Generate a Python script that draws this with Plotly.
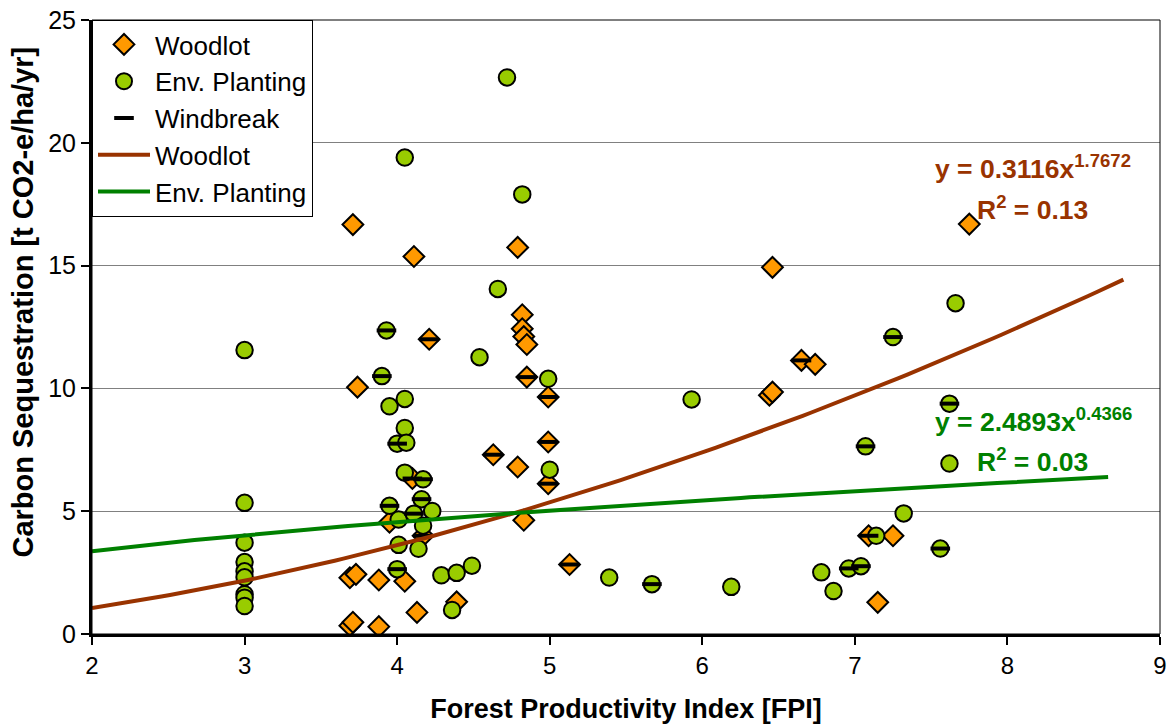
import numpy as np
import plotly.graph_objects as go

# ---- data ----
woodlot_x = [3.71, 4.11, 3.74, 4.21, 4.10, 3.95, 4.17, 3.69, 3.73, 3.88, 4.05, 4.39, 4.13,
             3.69, 3.71, 3.88, 4.79, 4.82, 4.82, 4.83, 4.85, 4.85, 4.99, 4.99, 4.63, 4.79,
             4.99, 4.83, 5.13, 6.46, 6.65, 6.74, 6.44, 6.46, 7.09, 7.25, 7.15, 7.75]
woodlot_y = [16.67, 15.37, 10.05, 12.0, 6.33, 4.55, 4.0, 2.29, 2.43, 2.2, 2.15, 1.31, 0.88,
             0.34, 0.48, 0.30, 15.74, 13.0, 12.43, 12.11, 11.79, 10.46, 9.65, 7.82, 7.3, 6.8,
             6.12, 4.63, 2.83, 14.93, 11.14, 10.98, 9.72, 9.85, 4.0, 4.0, 1.29, 16.69]

env_x = [3.0, 3.0, 3.0, 3.0, 3.0, 3.0, 3.0, 3.0, 3.0, 3.93, 3.90, 3.95, 4.05, 4.05, 4.0,
         4.06, 4.05, 4.17, 4.16, 4.23, 3.95, 4.01, 4.11, 4.17, 4.01, 4.14, 4.0, 4.29, 4.39,
         4.49, 4.36, 4.05, 4.72, 4.82, 4.66, 4.54, 4.99, 5.0, 5.39, 5.67, 5.93, 6.19, 6.78,
         6.86, 6.96, 7.04, 7.14, 7.32, 7.56, 7.07, 7.25, 7.62, 7.62, 7.66]
env_y = [11.56, 5.34, 3.72, 2.93, 2.55, 2.31, 1.62, 1.48, 1.14, 12.36, 10.5, 9.27, 9.57,
         8.39, 7.75, 7.79, 6.57, 6.3, 5.49, 5.01, 5.22, 4.66, 4.9, 4.41, 3.63, 3.47, 2.64,
         2.39, 2.49, 2.78, 0.98, 19.4, 22.66, 17.9, 14.05, 11.27, 10.39, 6.69, 2.3, 2.03,
         9.55, 1.92, 2.51, 1.75, 2.67, 2.76, 4.0, 4.91, 3.48, 7.64, 12.09, 9.38, 6.94, 13.47]

windbreak_x = [3.93, 3.90, 4.0, 4.17, 4.16, 3.95, 4.11, 4.0, 5.67, 6.96, 7.04, 7.56, 7.07,
               7.25, 7.62, 4.21, 4.10, 4.17, 4.85, 4.99, 4.99, 4.63, 4.99, 5.13, 6.65, 7.09]
windbreak_y = [12.36, 10.5, 7.75, 6.3, 5.49, 5.22, 4.9, 2.64, 2.03, 2.67, 2.76, 3.48, 7.64,
               12.09, 9.38, 12.0, 6.33, 4.0, 10.46, 9.65, 7.82, 7.3, 6.12, 2.83, 11.14, 4.0]

# power trendlines (coefficients shown on the chart)
woodlot_a, woodlot_b = 0.3116, 1.7672
env_a, env_b = 2.4893, 0.4366
woodlot_r2, env_r2 = "0.13", "0.03"
woodlot_fit_range = [2.0, 8.76]
env_fit_range = [2.0, 8.66]

BROWN = "#993300"
GREEN = "#008000"
FONT = "Liberation Sans, Arial, sans-serif"

fx_w = np.linspace(*woodlot_fit_range, 120)
fx_e = np.linspace(*env_fit_range, 120)

fig = go.Figure()
fig.add_trace(go.Scatter(
    x=woodlot_x, y=woodlot_y, mode="markers", name="Woodlot",
    marker=dict(symbol="diamond", size=16, color="#FF9900",
                line=dict(color="black", width=2))))
fig.add_trace(go.Scatter(
    x=env_x, y=env_y, mode="markers", name="Env. Planting",
    marker=dict(symbol="circle", size=16.5, color="#99CC00",
                line=dict(color="black", width=2))))
fig.add_trace(go.Scatter(
    x=windbreak_x, y=windbreak_y, mode="markers", name="Windbreak",
    marker=dict(symbol="line-ew", size=14, color="black",
                line=dict(color="black", width=4))))
fig.add_trace(go.Scatter(
    x=fx_w, y=woodlot_a * fx_w ** woodlot_b, mode="lines", name="Woodlot",
    line=dict(color=BROWN, width=4)))
fig.add_trace(go.Scatter(
    x=fx_e, y=env_a * fx_e ** env_b, mode="lines", name="Env. Planting",
    line=dict(color=GREEN, width=4)))

ann = [
    dict(x=7.51, y=19.0, text=f"y = {woodlot_a}x<sup>{woodlot_b}</sup>", color=BROWN),
    dict(x=7.79, y=17.35, text=f"R<sup>2</sup> = {woodlot_r2}", color=BROWN),
    dict(x=7.51, y=8.7, text=f"y = {env_a}x<sup>{env_b}</sup>", color=GREEN),
    dict(x=7.79, y=7.08, text=f"R<sup>2</sup> = {env_r2}", color=GREEN),
]
for a in ann:
    fig.add_annotation(x=a["x"], y=a["y"], xref="x", yref="y", text=f"<b>{a['text']}</b>",
                       showarrow=False, xanchor="left", yanchor="middle",
                       font=dict(family=FONT, size=26.5, color=a["color"]))

# y-axis title (placed as rotated text to match the original position)
fig.add_annotation(x=-0.0645, y=0.54, xref="paper", yref="paper",
                   text="<b>Carbon Sequestration [t CO2-e/ha/yr]</b>", textangle=-90,
                   showarrow=False, xanchor="center", yanchor="middle",
                   font=dict(family=FONT, size=29, color="black"))

fig.add_shape(type="rect", xref="paper", yref="paper", x0=0, y0=0, x1=1, y1=1,
              line=dict(color="black", width=1), layer="above")

fig.update_layout(
    width=1176, height=725,
    margin=dict(l=92, r=16, t=20, b=91, autoexpand=False),
    paper_bgcolor="white", plot_bgcolor="white",
    font=dict(family=FONT, color="black"),
    legend=dict(x=0, y=1, xanchor="left", yanchor="top", bgcolor="white",
                bordercolor="black", borderwidth=1, font=dict(size=26, family=FONT),
                tracegroupgap=0, itemwidth=52),
    showlegend=True,
)
fig.update_xaxes(range=[2, 9], dtick=1, tick0=2, showgrid=False, zeroline=False,
                 showline=True, linecolor="black", linewidth=3, automargin=False,
                 ticks="outside", ticklen=8, tickwidth=1.5, tickcolor="black",
                 tickfont=dict(size=24, family=FONT),
                 title=dict(text="<b>Forest Productivity Index [FPI]</b>",
                            font=dict(size=27, family=FONT), standoff=22))
fig.update_yaxes(range=[0, 25], dtick=5, showgrid=True, gridcolor="#808080", gridwidth=1,
                 zeroline=False, showline=True, linecolor="black", linewidth=3,
                 automargin=False,
                 ticks="outside", ticklen=8, tickwidth=1.5, tickcolor="black",
                 tickfont=dict(size=25, family=FONT))

fig.write_html("out.html")
